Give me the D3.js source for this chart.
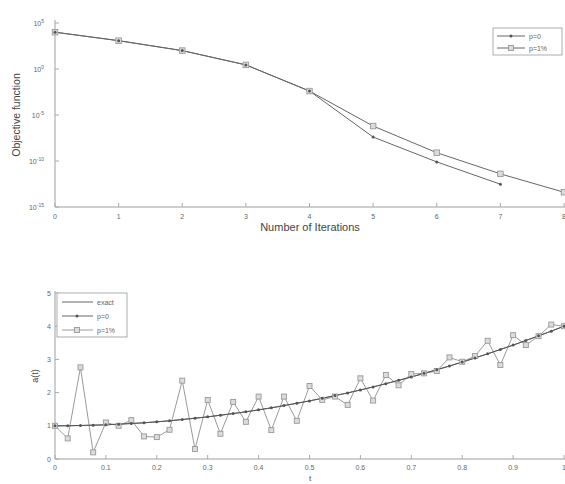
<!DOCTYPE html>
<html>
<head>
<meta charset="utf-8">
<script src="https://cdn.jsdelivr.net/npm/d3@7"></script>
<style>
  body { margin: 0; background: #fff; }
  svg { font-family: "Liberation Sans", Arial, sans-serif; }
</style>
</head>
<body>
<svg id="chart" width="565" height="484"></svg>
<script>
// ---- top chart data: objective function vs iterations
const iterP0 = [0, 1, 2, 3, 4, 5, 6, 7];
const objP0 = [1e4, 1.2e3, 1e2, 2.8, 4e-3, 4e-8, 8e-11, 3e-13];
const iterP1 = [0, 1, 2, 3, 4, 5, 6, 7, 8];
const objP1 = [1e4, 1.2e3, 1e2, 2.8, 4e-3, 6.3e-7, 8e-10, 4e-12, 4e-14];
const objTicks = [1e5, 1e0, 1e-5, 1e-10, 1e-15];
const objTickExp = ["5", "0", "-5", "-10", "-15"];

// ---- bottom chart data: a(t)
const tVals = [0, 0.025, 0.05, 0.075, 0.1, 0.125, 0.15, 0.175, 0.2, 0.225,
  0.25, 0.275, 0.3, 0.325, 0.35, 0.375, 0.4, 0.425, 0.45, 0.475,
  0.5, 0.525, 0.55, 0.575, 0.6, 0.625, 0.65, 0.675, 0.7, 0.725,
  0.75, 0.775, 0.8, 0.825, 0.85, 0.875, 0.9, 0.925, 0.95, 0.975, 1];
const aExact = [1.000, 1.002, 1.008, 1.017, 1.030, 1.047, 1.068, 1.092, 1.120, 1.152,
  1.188, 1.227, 1.270, 1.317, 1.368, 1.422, 1.480, 1.542, 1.608, 1.677,
  1.750, 1.827, 1.908, 1.992, 2.080, 2.172, 2.268, 2.367, 2.470, 2.577,
  2.688, 2.802, 2.920, 3.042, 3.168, 3.297, 3.430, 3.567, 3.708, 3.852, 4.000];
const aP0 = [1.00, 1.00, 1.01, 1.02, 1.03, 1.05, 1.07, 1.09, 1.12, 1.15,
  1.19, 1.23, 1.27, 1.32, 1.37, 1.42, 1.48, 1.54, 1.61, 1.68,
  1.75, 1.83, 1.91, 1.99, 2.08, 2.17, 2.27, 2.37, 2.47, 2.58,
  2.69, 2.80, 2.92, 3.04, 3.17, 3.30, 3.43, 3.57, 3.71, 3.85, 4.00];
const aP1 = [1.00, 0.62, 2.76, 0.20, 1.10, 1.00, 1.17, 0.68, 0.66, 0.88,
  2.36, 0.30, 1.78, 0.76, 1.72, 1.12, 1.88, 0.87, 1.88, 1.15,
  2.20, 1.78, 1.88, 1.63, 2.43, 1.76, 2.53, 2.22, 2.56, 2.58,
  2.65, 3.06, 2.93, 3.10, 3.56, 2.83, 3.73, 3.43, 3.70, 4.05, 4.00];
const tTicks = [0, 0.1, 0.2, 0.3, 0.4, 0.5, 0.6, 0.7, 0.8, 0.9, 1];
const aTicks = [0, 1, 2, 3, 4, 5];

const lineCol = "#666";
const axisCol = "#cfcfcf";
const textCol = "#666";

const svg = d3.select("#chart");

// open-ish square markers (p=1%)
function squares(g, xs, ys, x, y, s) {
    g.selectAll(null)
        .data(xs.map((d, i) => [d, ys[i]]))
        .enter()
        .append("rect")
        .attr("x", d => x(d[0]) - s / 2)
        .attr("y", d => y(d[1]) - s / 2)
        .attr("width", s)
        .attr("height", s)
        .attr("fill", "#dcdcdc")
        .attr("stroke", "#999")
        .attr("stroke-width", 0.9);
}

// point markers (p=0)
function dots(g, xs, ys, x, y) {
    g.selectAll(null)
        .data(xs.map((d, i) => [d, ys[i]]))
        .enter()
        .append("circle")
        .attr("cx", d => x(d[0]))
        .attr("cy", d => y(d[1]))
        .attr("r", 1.5)
        .attr("fill", "#555");
}

function path(g, xs, ys, x, y, col) {
    g.append("path")
        .datum(xs.map((d, i) => [d, ys[i]]))
        .attr("fill", "none")
        .attr("stroke", col)
        .attr("stroke-width", 1)
        .attr("d", d3.line().x(d => x(d[0])).y(d => y(d[1])));
}

// ---------------- top chart ----------------
const xTop = d3.scaleLinear().domain([0, 8]).range([55, 564]);
const yTop = d3.scaleLog().domain([1e-15, 1e5]).range([207, 23]);

const gTop = svg.append("g");

// axes lines
gTop.append("line").attr("x1", 55).attr("x2", 565).attr("y1", 207).attr("y2", 207)
    .attr("stroke", axisCol).attr("stroke-width", 2);
gTop.append("line").attr("x1", 55).attr("x2", 55).attr("y1", 20).attr("y2", 207)
    .attr("stroke", axisCol).attr("stroke-width", 2);

// x ticks
d3.range(0, 9).forEach(v => {
    gTop.append("line").attr("x1", xTop(v)).attr("x2", xTop(v))
        .attr("y1", 207).attr("y2", 203).attr("stroke", "#aaa");
    gTop.append("text").attr("x", xTop(v)).attr("y", 219)
        .attr("text-anchor", "middle").attr("font-size", 7).attr("fill", textCol).text(v);
});
// y ticks
objTicks.forEach((v, i) => {
    gTop.append("line").attr("x1", 55).attr("x2", 59)
        .attr("y1", yTop(v)).attr("y2", yTop(v)).attr("stroke", "#aaa");
    const t = gTop.append("text").attr("x", 44).attr("y", yTop(v) + 3)
        .attr("text-anchor", "end").attr("font-size", 7).attr("fill", textCol);
    t.append("tspan").text("10");
    t.append("tspan").attr("dy", -3).attr("font-size", 5).text(objTickExp[i]);
});

gTop.append("text").attr("x", 310).attr("y", 231).attr("text-anchor", "middle")
    .attr("font-size", 11).attr("fill", "#444").text("Number of Iterations");
gTop.append("text").attr("transform", "translate(20,115) rotate(-90)")
    .attr("text-anchor", "middle").attr("font-size", 10.5).attr("fill", "#444")
    .text("Objective function");

path(gTop, iterP1, objP1, xTop, yTop, lineCol);
path(gTop, iterP0, objP0, xTop, yTop, lineCol);
squares(gTop, iterP1, objP1, xTop, yTop, 5.5);
dots(gTop, iterP0, objP0, xTop, yTop);

// top legend
const lg1 = gTop.append("g");
lg1.append("rect").attr("x", 493).attr("y", 28).attr("width", 69).attr("height", 27)
    .attr("fill", "#fff").attr("stroke", "#999").attr("stroke-width", 0.8);
[["p=0", 36], ["p=1%", 48]].forEach((e, i) => {
    lg1.append("line").attr("x1", 497).attr("x2", 525).attr("y1", e[1]).attr("y2", e[1])
        .attr("stroke", lineCol);
    if (i === 0) {
        lg1.append("circle").attr("cx", 511).attr("cy", e[1]).attr("r", 1.5).attr("fill", "#555");
    } else {
        lg1.append("rect").attr("x", 508.5).attr("y", e[1] - 2.5).attr("width", 5).attr("height", 5)
            .attr("fill", "#dcdcdc").attr("stroke", "#999").attr("stroke-width", 0.9);
    }
    lg1.append("text").attr("x", 529).attr("y", e[1] + 2.5).attr("font-size", 7)
        .attr("fill", textCol).text(e[0]);
});

// ---------------- bottom chart ----------------
const xBot = d3.scaleLinear().domain([0, 1]).range([55, 564]);
const yBot = d3.scaleLinear().domain([0, 5]).range([459, 293]);

const gBot = svg.append("g");
gBot.append("line").attr("x1", 55).attr("x2", 565).attr("y1", 459).attr("y2", 459)
    .attr("stroke", axisCol).attr("stroke-width", 2);
gBot.append("line").attr("x1", 55).attr("x2", 55).attr("y1", 291).attr("y2", 459)
    .attr("stroke", axisCol).attr("stroke-width", 2);

tTicks.forEach(v => {
    gBot.append("line").attr("x1", xBot(v)).attr("x2", xBot(v))
        .attr("y1", 459).attr("y2", 455).attr("stroke", "#aaa");
    gBot.append("text").attr("x", xBot(v)).attr("y", 470)
        .attr("text-anchor", "middle").attr("font-size", 7).attr("fill", textCol).text(v);
});
aTicks.forEach(v => {
    gBot.append("line").attr("x1", 55).attr("x2", 59)
        .attr("y1", yBot(v)).attr("y2", yBot(v)).attr("stroke", "#aaa");
    gBot.append("text").attr("x", 51).attr("y", yBot(v) + 2.5)
        .attr("text-anchor", "end").attr("font-size", 7).attr("fill", textCol).text(v);
});

gBot.append("text").attr("x", 310).attr("y", 481).attr("text-anchor", "middle")
    .attr("font-size", 8).attr("fill", "#444").text("t");
gBot.append("text").attr("transform", "translate(38,376) rotate(-90)")
    .attr("text-anchor", "middle").attr("font-size", 9).attr("fill", "#444").text("a(t)");

path(gBot, tVals, aP1, xBot, yBot, "#9a9a9a");
path(gBot, tVals, aExact, xBot, yBot, "#777");
path(gBot, tVals, aP0, xBot, yBot, "#555");
squares(gBot, tVals, aP1, xBot, yBot, 5);
dots(gBot, tVals, aP0, xBot, yBot);

// bottom legend
const lg2 = gBot.append("g");
lg2.append("rect").attr("x", 57).attr("y", 293).attr("width", 70).attr("height", 44)
    .attr("fill", "#fff").attr("stroke", "#999").attr("stroke-width", 0.8);
[["exact", 302], ["p=0", 316], ["p=1%", 330]].forEach((e, i) => {
    lg2.append("line").attr("x1", 62).attr("x2", 93).attr("y1", e[1]).attr("y2", e[1])
        .attr("stroke", i === 2 ? "#9a9a9a" : lineCol);
    if (i === 1) {
        lg2.append("circle").attr("cx", 77).attr("cy", e[1]).attr("r", 1.5).attr("fill", "#555");
    } else if (i === 2) {
        lg2.append("rect").attr("x", 74.5).attr("y", e[1] - 2.5).attr("width", 5).attr("height", 5)
            .attr("fill", "#dcdcdc").attr("stroke", "#999").attr("stroke-width", 0.9);
    }
    lg2.append("text").attr("x", 97).attr("y", e[1] + 2.5).attr("font-size", 7)
        .attr("fill", textCol).text(e[0]);
});
</script>
</body>
</html>
